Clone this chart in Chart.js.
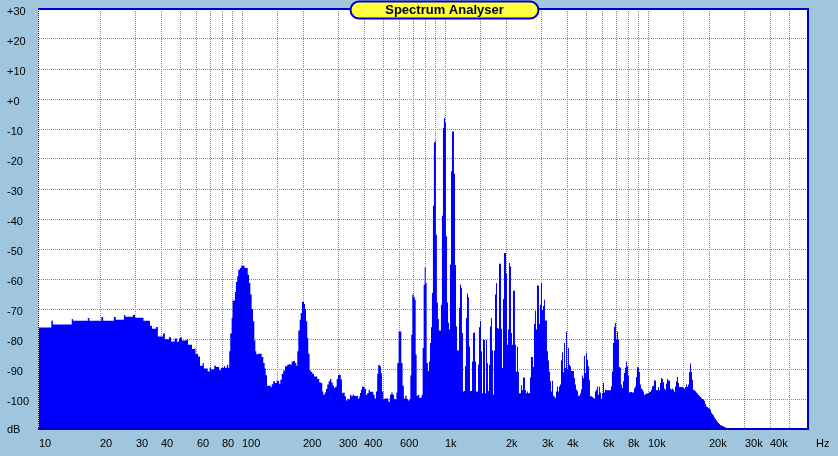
<!DOCTYPE html>
<html>
<head>
<meta charset="utf-8">
<title>Spectrum Analyser</title>
<script src="https://cdn.jsdelivr.net/npm/chart.js@4.4.0/dist/chart.umd.min.js"></script>
<style>
  html, body { margin: 0; padding: 0; background: #9fc6dc; }
  #wrap { width: 838px; height: 456px; }
</style>
</head>
<body>
<div id="wrap"><canvas id="spectrum" width="838" height="456"></canvas></div>
<script>
// --- spectrum readings (Hz / dB), split by band ---
const rumbleHz = [10, 11.3, 11.5, 11.7, 14.2, 14.5, 14.7, 17.2, 17.4, 17.7,
  20.1, 20.3, 20.7, 23.1, 23.4, 23.9, 25.9, 26.2, 26.6, 28.7,
  29.0, 29.7, 32.2, 32.7, 34.4, 35.2, 36.0, 37.3, 37.7, 38.5,
  40.3, 40.8, 41.7, 43.2, 43.7, 44.7, 45.7, 46.6, 47.8];
const rumbleDb = [-76.2, -76.2, -73.9, -75.2, -75.2, -73.3, -73.9, -73.9, -73.0, -73.9,
  -73.9, -72.7, -73.9, -73.9, -72.7, -73.6, -73.6, -72.0, -72.6, -72.6,
  -72.0, -72.9, -72.9, -73.9, -73.9, -75.6, -76.6, -76.6, -76.0, -79.2,
  -79.2, -78.2, -80.1, -80.1, -79.4, -80.8, -80.8, -79.8, -80.9];

const humHz = [48.9, 49.5, 50.6, 52.4, 53.0, 54.2, 56.1, 56.7, 58.2, 59.0,
  60.0, 60.7, 62.1, 64.0, 64.9, 67.0, 67.7, 68.5, 69.3, 70.3,
  72.2, 73.0, 74.5, 76.4, 77.2, 78.7, 81.5, 82.4, 84.3, 85.5,
  86.5, 87.5, 88.9, 89.9, 92.3, 93.3, 94.7, 95.8, 97.8, 99.2,
  101.9, 102.9, 105.5, 106.7, 108.3, 109.9, 111.6, 113.3, 115, 116.3,
  117.6, 119.9, 124, 125, 127.3, 129.3, 130.8, 132.8, 137.4, 138.5,
  140, 142.6, 145.4, 148.2, 150.9, 152.1, 154.4, 156.9, 159.7, 162.8,
  167.1, 170.3, 172.8, 175.7, 178.9, 182.4, 185.1, 187.2, 189.4, 192.4,
  194.6, 197.4, 199.7, 202, 204.3, 206.6, 209.6, 212, 215.2, 218.6,
  221.9, 226.2, 231.4];
const humDb = [-79.8, -79.5, -80.5, -80.5, -80.3, -81.9, -81.9, -83.3, -83.2, -85,
  -85, -85.8, -88.9, -88, -89.8, -89.8, -90.7, -90.9, -89.5, -90.2,
  -90.2, -88.9, -89.3, -89.3, -90.4, -89.6, -89.0, -89.6, -88.6, -89.6,
  -84.1, -78.2, -73.0, -67.2, -64.3, -61.0, -59.1, -56.9, -56.3, -55.6,
  -55.6, -56.3, -56.3, -58.6, -61.3, -65.2, -70, -74.1, -80.5, -84.1,
  -85.1, -84.9, -84.9, -86, -88, -89.8, -92.1, -95.6, -95.6, -96.1,
  -95.1, -94.1, -94.7, -93.9, -93.9, -94.9, -93.6, -91.6, -90.5, -89.1,
  -88.6, -88.3, -88.6, -87.5, -87.3, -88, -88.9, -84.1, -77.2, -73.6,
  -71.3, -67.7, -67.6, -68.3, -70, -74.1, -79.7, -84.9, -90.5, -91,
  -91.6, -92.5, -92.5];

const midHz = [234.8, 240.2, 244.9, 248.5, 251.4, 255.4, 259.2, 263, 267.2, 271.2,
  275.3, 279.7, 283.9, 288.1, 292.8, 297, 301.6, 306.3, 310.7, 315.3,
  320.4, 325.1, 330, 335, 340.3, 345.3, 350.8, 356, 361.3, 367.1,
  372.6, 378.2, 381.2, 385.5, 389.8, 395.7, 402.1, 408, 414, 420.6,
  426.8, 436.7, 443, 450, 457, 463.5, 468.8, 476.3, 483.5, 489.1,
  496.5, 504.5, 516, 526, 535.5, 544, 552, 561, 569, 576,
  582, 591, 600, 609, 618, 627, 637, 647, 657, 667,
  675, 682, 690, 701, 709, 717, 725, 736, 747, 759,
  768, 776, 785, 794, 803, 812, 824, 834, 843, 853,
  862, 872, 882, 892, 902, 912, 923, 933, 944, 955,
  966, 977, 988, 1000, 1011, 1023, 1035, 1046];
const midDb = [-93.3, -94.5, -94.7, -97.5, -98.6, -97.8, -96.7, -95.2, -94.1, -93.3,
  -94.5, -95.6, -96.3, -95.8, -93.3, -92, -91.9, -93.5, -98, -97.8,
  -99.1, -100.5, -99.9, -100.2, -98.6, -99.1, -98.6, -98.9, -99.1, -98.9,
  -99.8, -99.1, -98, -96.9, -95.8, -96, -96.7, -98.6, -98, -96.9,
  -97.6, -97.6, -98.6, -99.8, -97.5, -91.6, -88.6, -89.1, -91.4, -97.5,
  -100, -99.8, -99.8, -100.9, -98.6, -97.8, -98.6, -100, -100.2, -97.8,
  -88, -77.5, -77.5, -88, -95.6, -99.8, -98.9, -100, -100.5, -100.2,
  -92.2, -78.6, -65.2, -66, -66.9, -85.2, -98.9, -98.6, -99.7, -99.4,
  -98.6, -83, -61.9, -56.1, -61.3, -88, -90.7, -87.4, -81.3, -76.1,
  -64.7, -35.6, -14.5, -13.9, -45.2, -67.8, -73.3, -77.2, -77.2, -68.6,
  -38.9, -9.7, -6.3, -7.8, -45.8, -67.8, -74.5, -76.8];

const toneHz = [1058, 1070, 1083, 1095, 1107, 1120, 1133, 1146, 1159, 1172,
  1185, 1199, 1212, 1226, 1240, 1254, 1268, 1283, 1298, 1312,
  1328, 1343, 1358, 1374, 1389, 1405, 1421, 1437, 1454, 1470,
  1487, 1504, 1521, 1539, 1556, 1574, 1592, 1610, 1628, 1647,
  1665, 1684, 1703, 1723, 1742, 1763, 1783, 1803, 1824, 1845,
  1866, 1887, 1909, 1930, 1952, 1974, 1997, 2020, 2043, 2066,
  2089, 2113, 2137, 2162, 2186, 2211, 2236, 2262, 2288, 2314,
  2340, 2367, 2394, 2421, 2449, 2477, 2505, 2534, 2563, 2592,
  2621, 2651, 2682, 2712, 2743, 2774, 2806, 2838, 2870, 2903,
  2936, 2970, 3004, 3038, 3072, 3107, 3143, 3178, 3215, 3251];
const toneDb = [-55.2, -24.1, -10.8, -10.8, -24.9, -55.3, -75.8, -83.8, -83.8, -69.7,
  -61.9, -62.9, -78, -97.5, -97.3, -89.1, -73, -64.8, -66.1, -82.5,
  -97.3, -97.3, -87.5, -78, -77.8, -87.5, -97.5, -97.5, -88.6, -76.1,
  -74, -84.1, -98.1, -80.3, -80.3, -98.1, -80.3, -88, -97.3, -88.6,
  -75.8, -73, -83.8, -98.6, -83.8, -65.2, -61.3, -76.3, -76.6, -54.9,
  -54.9, -76.6, -89.7, -66.7, -51.3, -51.3, -58.2, -81.9, -76.8, -54.7,
  -55.8, -78, -81.9, -63.9, -63.9, -81.9, -90.9, -82.5, -90.9, -98.1,
  -98.1, -95.4, -97, -92.8, -92.8, -97, -98.1, -97.5, -98.1, -98.1,
  -92.8, -86, -86, -89.3, -75, -70.6, -76.8, -62.2, -62.2, -75,
  -68.6, -61.3, -70.3, -69, -66.9, -73.8, -73.8, -84.1, -87.2, -90.8];

const upperHz = [3289, 3326, 3364, 3403, 3441, 3480, 3520, 3560, 3601, 3642,
  3684, 3726, 3769, 3812, 3855, 3898, 3943, 3988, 4033, 4079,
  4126, 4173, 4220, 4268, 4317, 4367, 4416, 4467, 4518, 4569,
  4621, 4674, 4727, 4781, 4836, 4891, 4947, 5003, 5060, 5118,
  5176, 5235, 5295, 5355, 5416, 5478, 5540, 5604, 5668, 5732,
  5798, 5864, 5931, 5998, 6067, 6136, 6206, 6276, 6348, 6420,
  6494, 6568, 6642, 6718, 6795, 6873, 6951, 7030, 7111, 7192,
  7273, 7356, 7440, 7525, 7611, 7698, 7785, 7874, 7964, 8055,
  8147, 8240, 8334, 8429, 8525, 8622, 8720, 8820, 8920, 9022,
  9125, 9229, 9334, 9440, 9548, 9660, 9770, 9880, 10000, 10114];
const upperDb = [-94, -97.5, -93.9, -98.9, -99.2, -99.7, -97.5, -95.8, -97.5, -95.8,
  -95.2, -87.2, -84.4, -91.1, -81.3, -89.7, -77.5, -89.9, -83, -88.6,
  -89.1, -90.7, -90.7, -90.7, -93, -95.2, -96.8, -97.3, -98.9, -98.9,
  -98.2, -96.8, -92.2, -93.1, -85.6, -91.3, -84.6, -86.9, -89.1, -93.6,
  -99.1, -99.1, -99.3, -99.6, -99.9, -97.5, -96.9, -95.8, -98.6, -95.9,
  -97.8, -99.9, -98, -94.7, -97.8, -96.9, -97.1, -97.1, -97.1, -97.1,
  -97.1, -95.8, -90.8, -81.3, -76, -74.7, -80.2, -77.5, -80.2, -89.3,
  -89.6, -95.2, -96.3, -94.1, -91.3, -89.6, -87.5, -89.1, -92.2, -97.8,
  -97.7, -97.7, -97.8, -97.8, -96.5, -95.8, -92.7, -89.3, -89.6, -91,
  -95.2, -96.5, -96.9, -97.5, -98.6, -98.4, -98.2, -98.2, -98.0, -97.6];

const topHz = [10230, 10350, 10460, 10580, 10700, 10830, 10950, 11070, 11200, 11330,
  11460, 11590, 11720, 11850, 11990, 12120, 12260, 12400, 12540, 12680,
  12830, 12980, 13120, 13280, 13430, 13580, 13740, 13890, 14050, 14210,
  14370, 14540, 14700, 14870, 15040, 15210, 15390, 15560, 15740, 15920,
  16100, 16280, 16470, 16650, 16840, 17030, 17230, 17420, 17620, 17830,
  18030, 18240, 18440, 18650, 18870, 19080, 19300, 19520, 19740, 19970,
  20200, 20430, 20660, 20890, 21130, 21370, 21620, 21860, 22110, 22370,
  22620, 22880, 23140, 23400, 23670, 23940, 24220, 24490];
const topDb = [-97.6, -96.9, -95.8, -95.6, -93.8, -93.8, -97.1, -97, -96, -97.1,
  -94.7, -93, -93.3, -94.4, -96.5, -96.9, -94.9, -93.3, -93.8, -93.8,
  -96.5, -96.8, -96.5, -96.9, -97.6, -95.8, -94.1, -92.7, -94.7, -96,
  -96, -96, -96, -96.3, -96.6, -96, -95.2, -96, -95.2, -91.1,
  -88.2, -90.9, -93.6, -96.9, -97.1, -97.4, -97.8, -98.2, -98.6, -98.9,
  -99.3, -99.6, -100, -100.2, -100.6, -101.6, -102.5, -102.7, -103.1, -103.1,
  -103.6, -104.6, -105.1, -105.4, -106.2, -106.7, -107.2, -107.6, -108, -108.3,
  -108.7, -108.9, -108.9, -109.2, -109.3, -109.5, -109.7, -110];

// --- axis labels ---
const xTickValues = [10, 20, 30, 40, 60, 80, 100, 200, 300, 400, 600,
  1000, 2000, 3000, 4000, 6000, 8000, 10000, 20000, 30000, 40000];
const xTickLabels = ['10', '20', '30', '40', '60', '80', '100', '200', '300', '400', '600',
  '1k', '2k', '3k', '4k', '6k', '8k', '10k', '20k', '30k', '40k'];
const yTickValues = [30, 20, 10, 0, -10, -20, -30, -40, -50, -60, -70, -80, -90, -100];
const yTickLabels = ['+30', '+20', '+10', '+0', '-10', '-20', '-30', '-40', '-50',
  '-60', '-70', '-80', '-90', '-100'];

// --- colours ---
const PLOT_BG = '#ffffff';
const FILL = '#0000ff';
const FRAME = '#0000c8';
const GRID = '#999900';
const TITLE_BG = '#ffff40';
const FONT = '"Liberation Sans", Arial, sans-serif';

function toPoints(hz, db) {
  if (hz.length !== db.length) console.warn('length mismatch', hz.length, db.length);
  return hz.map((f, i) => ({ x: f, y: db[i] }));
}

const spectrum = [].concat(
  toPoints(rumbleHz, rumbleDb),
  toPoints(humHz, humDb),
  toPoints(midHz, midDb),
  toPoints(toneHz, toneDb),
  toPoints(upperHz, upperDb),
  toPoints(topHz, topDb)
);

// plot background, frame, title pill and axis texts
const analyserFrame = {
  id: 'analyserFrame',
  beforeDraw(chart) {
    const { ctx, chartArea: a } = chart;
    ctx.save();
    ctx.fillStyle = PLOT_BG;
    ctx.fillRect(a.left - 1, a.top, a.right - a.left + 1, a.bottom - a.top);
    ctx.restore();
  },
  afterDraw(chart) {
    const { ctx, chartArea: a } = chart;
    const xs = chart.scales.x, ys = chart.scales.y;
    ctx.save();

    // frame
    ctx.fillStyle = FRAME;
    ctx.fillRect(a.left - 1, a.top - 1, a.right - a.left + 2, 2);
    ctx.fillRect(a.left - 1, a.bottom - 1, a.right - a.left + 2, 2);
    ctx.fillRect(a.right - 1, a.top - 1, 2, a.bottom - a.top + 2);
    for (let y = a.top; y < a.bottom; y += 2) ctx.fillRect(a.left - 1, y, 1, 1);

    // y labels
    ctx.fillStyle = '#000';
    ctx.font = '11px ' + FONT;
    ctx.textAlign = 'left';
    ctx.textBaseline = 'alphabetic';
    yTickValues.forEach((v, i) => {
      ctx.fillText(yTickLabels[i], 7, Math.round(ys.getPixelForValue(v)) + 6);
    });
    ctx.fillText('dB', 7, Math.round(ys.getPixelForValue(-110)) + 4);

    // x labels
    xTickValues.forEach((v, i) => {
      ctx.fillText(xTickLabels[i], Math.round(xs.getPixelForValue(v)), a.bottom + 18);
    });
    ctx.fillText('Hz', a.right + 8, a.bottom + 18);

    // title pill
    const cx = (a.left + a.right) / 2 + 20;
    const w = 188, h = 17, r = 8.5;
    const x0 = Math.round(cx - w / 2) + 0.5, y0 = 1.5;
    ctx.beginPath();
    ctx.moveTo(x0 + r, y0);
    ctx.lineTo(x0 + w - r, y0);
    ctx.arc(x0 + w - r, y0 + r, r, -Math.PI / 2, Math.PI / 2);
    ctx.lineTo(x0 + r, y0 + h);
    ctx.arc(x0 + r, y0 + r, r, Math.PI / 2, Math.PI * 1.5);
    ctx.closePath();
    ctx.fillStyle = TITLE_BG;
    ctx.fill();
    ctx.lineWidth = 2;
    ctx.strokeStyle = FRAME;
    ctx.stroke();
    ctx.fillStyle = '#000';
    ctx.font = 'bold 13px ' + FONT;
    ctx.textAlign = 'center';
    ctx.fillText('Spectrum Analyser', x0 + w / 2, 14);

    ctx.restore();
  }
};

const chart = new Chart(document.getElementById('spectrum'), {
  type: 'line',
  data: {
    datasets: [{
      label: 'Spectrum',
      data: spectrum,
      stepped: 'before',
      fill: 'start',
      backgroundColor: FILL,
      borderColor: 'rgba(0,0,0,0)',
      borderWidth: 0,
      pointRadius: 0
    }]
  },
  options: {
    responsive: false,
    animation: false,
    devicePixelRatio: 1,
    layout: { padding: { left: 39, right: 30, top: 9, bottom: 27 } },
    plugins: { legend: { display: false }, tooltip: { enabled: false } },
    scales: {
      x: {
        type: 'logarithmic',
        min: 10,
        max: 61400,
        ticks: { display: false, autoSkip: false },
        grid: {
          drawTicks: false,
          lineWidth: 1,
          color: (c) => (c.tick && (c.tick.value <= 10 || c.tick.value > 50000)) ? 'rgba(0,0,0,0)' : GRID
        },
        border: { display: false, dash: [1, 1] }
      },
      y: {
        min: -110,
        max: 30,
        ticks: { display: false, stepSize: 10 },
        grid: { drawTicks: false, lineWidth: 1, color: GRID },
        border: { display: false, dash: [1, 1] }
      }
    }
  },
  plugins: [analyserFrame]
});
</script>
</body>
</html>
